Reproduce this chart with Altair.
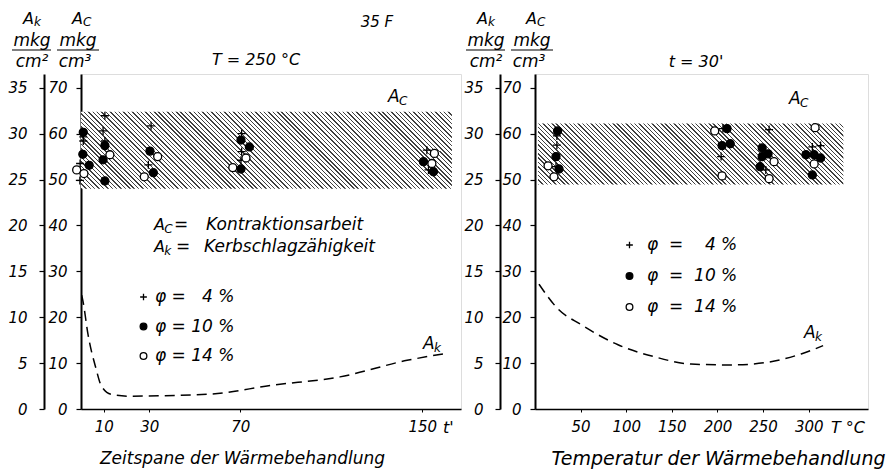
import altair as alt
import pandas as pd

FONT = "DejaVu Sans"
PHI_DOMAIN = ["4", "10", "14"]
PLUS = "M-1,0L1,0M0,-1L0,1"

# ---------------- left panel: T = 250 °C, x = Zeitspanne t' ----------------
L_t_phi4 = [1, 1, -0.4, -0.5, 10.5, 9.7, 10.5, 30.8, 29.6, 70.6, 70.6, 70.3, 152, 152.7]
L_ac_phi4 = [59.3, 58.4, 53.5, 49.8, 63.9, 60.6, 58.4, 61.7, 53.2, 60.0, 56.1, 54.2, 56.4, 52.1]
L_t_phi10 = [1, 0.8, 3.6, 10.5, 9.7, 10.5, 30.3, 31.8, 70.3, 74, 70.3, 150.5, 154.9]
L_ac_phi10 = [60.3, 55.5, 53.1, 57.4, 54.3, 49.7, 56.2, 51.5, 58.6, 57.1, 52.3, 53.9, 51.7]
L_t_phi14 = [-1.9, 1.3, 12.7, 33.7, 27.8, 72.5, 66.7, 155.3, 154.2]
L_ac_phi14 = [52.1, 51.3, 55.4, 55.0, 50.6, 54.7, 52.6, 55.7, 53.5]
L_curve_t = [0.3, 0.9, 3.1, 6.6, 8.8, 13.2, 20.7, 55.4, 84.4, 113.8, 143.3, 159.1]
L_curve_ak = [12.4, 11.7, 8.1, 4.4, 2.6, 1.6, 1.4, 1.6, 2.6, 3.5, 5.3, 6.0]
L_band_x = [0, 163]
L_band_ac = [48.0, 64.8]
L_xticks = [10, 30, 70, 150]
L_xmax = 167

# ---------------- right panel: t = 30', x = Temperatur T °C ----------------
R_T_phi4 = [24, 24, 23, 206, 204, 256.6, 253, 304, 313]
R_ac_phi4 = [59.5, 57.5, 52.8, 61.1, 55.0, 60.9, 52.1, 57.1, 57.4]
R_T_phi10 = [24.8, 23, 26.3, 210.5, 205, 214, 249, 249, 255.5, 246.7, 297, 306, 313, 304]
R_ac_phi10 = [60.6, 55.0, 52.3, 61.1, 57.4, 57.8, 56.9, 55.0, 55.6, 52.8, 55.4, 55.4, 54.7, 51.0]
R_T_phi14 = [14.3, 20.8, 197, 205, 262, 256.6, 307, 306]
R_ac_phi14 = [53.0, 50.6, 60.6, 50.8, 53.9, 50.2, 61.3, 53.4]
R_curve_T = [4.4, 25.2, 50.4, 91, 130.5, 171, 215, 255.5, 291.7, 315.8]
R_curve_ak = [13.6, 10.9, 9.2, 7.0, 5.7, 4.9, 4.8, 5.1, 6.0, 6.9]
R_band_x = [3.3, 338]
R_band_ac = [48.9, 62.2]
R_xticks = [50, 100, 150, 200, 250, 300]
R_xmax = 365

AC_MAX, AK_MAX = 73, 36.5
L_W, R_W, H = 380, 333, 335


def points_df(xs4, ys4, xs10, ys10, xs14, ys14):
    rows = []
    for phi, xs, ys in (("4", xs4, ys4), ("10", xs10, ys10), ("14", xs14, ys14)):
        rows += [{"x": a, "ac": b, "phi": phi} for a, b in zip(xs, ys)]
    return pd.DataFrame(rows)


def hatch(w, h, period=3.1, dark=0.33, ink="#404040"):
    r = h / w
    f = (1 + r) / (1 + r * r)
    n = max(1, round((w + h) / 2 ** 0.5 / period))
    stops = []
    for i in range(n):
        a, b, c = i / n, (i + dark) / n, (i + 1) / n
        stops += [alt.GradientStop(color=ink, offset=round(a, 5)),
                  alt.GradientStop(color=ink, offset=round(b, 5)),
                  alt.GradientStop(color="white", offset=round(b, 5)),
                  alt.GradientStop(color="white", offset=round(c, 5))]
    return alt.LinearGradient(gradient="linear", stops=stops, x1=0, y1=1,
                              x2=round(f, 4), y2=round(1 - r * f, 4))


def txt(label, x, y, size=17, align="center"):
    return alt.Chart(pd.DataFrame({"label": [label]})).mark_text(
        font=FONT, fontStyle="italic", fontSize=size, align=align,
        baseline="middle", color="black"
    ).encode(x=alt.value(x), y=alt.value(y), text="label:N")


def asub(x, y, sub, size=17):
    return [txt("A", x, y, size, "left"),
            txt(sub, x + 0.64 * size, y + 4, round(size * 0.72), "left")]


def hline(x1, x2, y):
    return alt.Chart(pd.DataFrame({"a": [0]})).mark_rule(
        color="black", strokeWidth=1.2
    ).encode(x=alt.value(x1), x2=alt.value(x2), y=alt.value(y))


def header():
    return [
        txt("A", -58, -55, 16, "left"), txt("k", -47, -52, 12, "left"),
        txt("A", -9, -55, 16, "left"), txt("C", 2, -52, 12, "left"),
        txt("mkg", -49, -33, 17), hline(-69, -30, -24), txt("cm²", -49, -12, 17),
        txt("mkg", -3, -33, 17), hline(-24, 18, -24), txt("cm³", -6, -12, 17),
    ]


def legend(lx, ly, row_pad, label_offset, gap):
    expr = ("'φ" + gap + "=" + gap + "' + (datum.label == '4' ? '\u2007' : '') + "
            "datum.label + '\u00a0%'")
    return alt.Legend(orient="none", legendX=lx, legendY=ly, title=None, direction="vertical",
                      labelFont=FONT, labelFontStyle="italic", labelFontSize=17,
                      labelColor="black", symbolStrokeWidth=1.3, symbolOpacity=1,
                      symbolSize=45, rowPadding=row_pad, labelOffset=label_offset,
                      padding=0, labelExpr=expr)


def panel(pts, cx, cy, band_x, band_ac, xmax, width, xticks, xtitle, title_x, title_size,
          ak_offset, leg, extras):
    xs = alt.Scale(domain=[0, xmax], nice=False, zero=False)
    ac = alt.Scale(domain=[0, AC_MAX], nice=False)
    ak = alt.Scale(domain=[0, AK_MAX], nice=False)
    xaxis = alt.Axis(values=xticks, title=xtitle, titleX=title_x, titleY=49,
                     titleAlign="center", titleBaseline="middle", titleFontSize=title_size,
                     tickSize=3, labelPadding=7, domainWidth=1.5, labelFlush=False)
    yaxis_common = dict(orient="left", title=None, tickSize=5, tickWidth=1.2, domainWidth=2)
    ac_axis = alt.Axis(values=list(range(0, 71, 10)), offset=0, labelPadding=9, **yaxis_common)
    ak_axis = alt.Axis(values=list(range(0, 36, 5)), offset=ak_offset, labelPadding=12,
                       **yaxis_common)

    bw = (band_x[1] - band_x[0]) * width / xmax
    bh = (band_ac[1] - band_ac[0]) * H / AC_MAX
    band = alt.Chart(pd.DataFrame({"x0": [band_x[0]], "x1": [band_x[1]],
                                   "lo": [band_ac[0]], "hi": [band_ac[1]]})).mark_rect(
        fill=hatch(bw, bh), strokeWidth=0, opacity=1
    ).encode(x=alt.X("x0:Q", scale=xs, axis=xaxis), x2="x1",
             y=alt.Y("lo:Q", scale=ac, axis=None), y2="hi")

    curve = alt.Chart(pd.DataFrame({"x": cx, "ak": cy})).mark_line(
        color="black", strokeWidth=1.5, strokeDash=[10, 6], interpolate="monotone"
    ).encode(x=alt.X("x:Q", scale=xs, axis=xaxis),
             y=alt.Y("ak:Q", scale=ak, axis=ak_axis))

    dots = alt.Chart(pts).mark_point(size=64, strokeWidth=1.3, opacity=1).encode(
        x=alt.X("x:Q", scale=xs, axis=xaxis),
        y=alt.Y("ac:Q", scale=ac, axis=ac_axis),
        shape=alt.Shape("phi:N", scale=alt.Scale(domain=PHI_DOMAIN, range=[PLUS, "circle", "circle"]),
                        legend=leg),
        fill=alt.Fill("phi:N", scale=alt.Scale(domain=PHI_DOMAIN, range=["transparent", "black", "white"]),
                      legend=leg),
        stroke=alt.Stroke("phi:N", scale=alt.Scale(domain=PHI_DOMAIN, range=["black", "black", "black"]),
                          legend=leg),
    )
    return alt.layer(band, dots, curve, *extras).resolve_scale(y="independent").properties(
        width=width, height=H)


left_extras = header() + [
    txt("35 F", 296, -52, 15),
    txt("T = 250 °C", 175, -14, 16),
    *asub(307, 23, "C"),
    *asub(342, 270, "k"),
    *asub(73, 151, "C", 16), txt("=", 93, 151, 17, "left"), txt("Kontraktionsarbeit", 125, 151, 17, "left"),
    *asub(73, 173, "k", 16), txt("=", 95, 173, 17, "left"), txt("Kerbschlagzähigkeit", 123, 173, 17, "left"),
    txt("t'", 362, 354, 16, "left"),
]
right_extras = header() + [
    txt("t = 30'", 161, -12, 16),
    *asub(254, 25, "C"),
    *asub(269, 259, "k"),
    txt("T °C", 296, 354, 16, "left"),
]

left = panel(points_df(L_t_phi4, L_ac_phi4, L_t_phi10, L_ac_phi10, L_t_phi14, L_ac_phi14),
             L_curve_t, L_curve_ak, L_band_x, L_band_ac, L_xmax, L_W, L_xticks,
             "Zeitspane der Wärmebehandlung", 161, 17, 37,
             legend(54, 214.5, 11.5, 3, "\u00a0"), left_extras)
right = panel(points_df(R_T_phi4, R_ac_phi4, R_T_phi10, R_ac_phi10, R_T_phi14, R_ac_phi14),
              R_curve_T, R_curve_ak, R_band_x, R_band_ac, R_xmax, R_W, R_xticks,
              "Temperatur der Wärmebehandlung", 183, 19, 35,
              legend(86, 162.5, 13, 9, "\u00a0\u00a0"), right_extras)

chart = alt.hconcat(left, right, spacing=74, bounds="flush").resolve_scale(
    x="independent", y="independent", shape="independent", fill="independent",
    stroke="independent"
).resolve_legend(shape="independent", fill="independent", stroke="independent").properties(
    padding={"left": 7, "top": 10, "right": 5, "bottom": 5}
).configure_view(stroke=None).configure(font=FONT).configure_axis(
    domainColor="black", tickColor="black", labelColor="black", titleColor="black",
    labelFont=FONT, labelFontStyle="italic", labelFontSize=15, grid=False,
    titleFont=FONT, titleFontStyle="italic", titleFontWeight="normal", titleFontSize=17,
)

chart.save("out.html", embed_options={"renderer": "svg", "actions": False})
